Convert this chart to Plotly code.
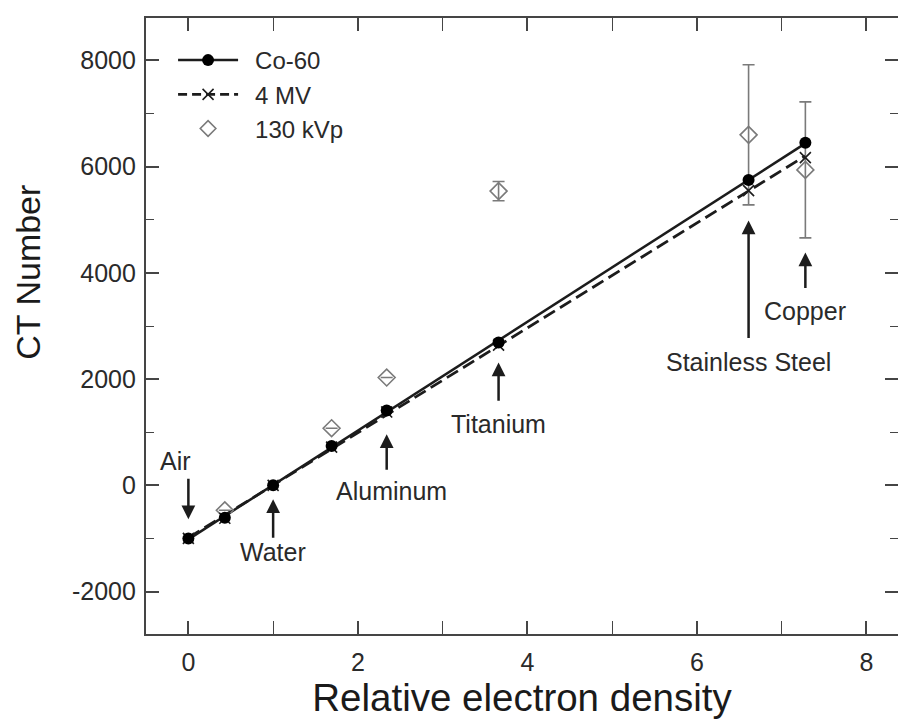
import numpy as np
import plotly.graph_objects as go

# ---------------- data ----------------
density = [0.0, 0.43, 1.0, 1.69, 2.34, 3.66, 6.61, 7.28]
co60 = [-1000, -610, 0, 740, 1410, 2690, 5750, 6450]
mv4 = [-1000, -620, 0, 720, 1380, 2640, 5550, 6170]
kvp130 = [None, -470, None, 1075, 2030, 5540, 6600, 5940]
kvp130_err = [0, 0, 0, 0, 0, 180, 1320, 1280]

material_names = ["Air", "Water", "Aluminum", "Titanium", "Stainless Steel", "Copper"]
material_density = [0.0, 1.0, 2.34, 3.66, 6.61, 7.28]
arrow_tip = [-640, -263, 960, 2315, 4988, 4385]
arrow_tail = [150, -1016, 264, 1562, 2748, 3689]
label_x = [-0.15, 1.0, 2.40, 3.66, 6.61, 7.28]
label_y = [452, -1261, -113, 1148, 2315, 3275]

x_ticks = [0, 2, 4, 6, 8]
x_tick_labels = ["0", "2", "4", "6", "8"]
y_ticks = [-2000, 0, 2000, 4000, 6000, 8000]
y_tick_labels = ["-2000", "0", "2000", "4000", "6000", "8000"]

FONT = "Liberation Sans, Arial, sans-serif"
DARK = "#1c1c1c"
AXIS = "#454545"
GRAY = "#7a7a7a"
TXT = "#2a2a2a"

fig = go.Figure()

# least-squares fit lines through the measured points
x_fit = np.array([min(density), max(density)])
p_co = np.polyfit(density, co60, 1)
p_mv = np.polyfit(density, mv4, 1)

fig.add_trace(go.Scatter(x=x_fit, y=np.polyval(p_co, x_fit), mode="lines",
                         line=dict(color=DARK, width=2.5), showlegend=False,
                         hoverinfo="skip"))
fig.add_trace(go.Scatter(x=x_fit, y=np.polyval(p_mv, x_fit), mode="lines",
                         line=dict(color=DARK, width=2.8, dash="13px,6px"),
                         showlegend=False, hoverinfo="skip"))

# 130 kVp diamonds with error bars
fig.add_trace(go.Scatter(
    x=density, y=kvp130, mode="markers",
    marker=dict(symbol="diamond-open", size=13, color=GRAY,
                line=dict(width=1.6, color=GRAY)),
    error_y=dict(type="data", array=kvp130_err, visible=True,
                 color=GRAY, thickness=1.6, width=6),
    showlegend=False))

# 4 MV crosses
fig.add_trace(go.Scatter(
    x=density, y=mv4, mode="markers",
    marker=dict(symbol="x-thin-open", size=11, color=DARK,
                line=dict(width=1.6, color=DARK)),
    showlegend=False))

# Co-60 filled circles
fig.add_trace(go.Scatter(
    x=density, y=co60, mode="markers",
    marker=dict(symbol="circle", size=12, color="#000000"),
    showlegend=False))

# legend entries
fig.add_trace(go.Scatter(x=[None], y=[None], mode="lines+markers", name="\u2002Co-60",
                         line=dict(color=DARK, width=2.5),
                         marker=dict(symbol="circle", size=12, color="#000000")))
fig.add_trace(go.Scatter(x=[None], y=[None], mode="lines+markers", name="\u20024 MV",
                         line=dict(color=DARK, width=2.8, dash="9px,5px"),
                         marker=dict(symbol="x-thin-open", size=11, color=DARK,
                                     line=dict(width=1.6, color=DARK))))
fig.add_trace(go.Scatter(x=[None], y=[None], mode="markers", name="\u2002130 kVp",
                         marker=dict(symbol="diamond-open", size=12, color=GRAY,
                                     line=dict(width=1.6, color=GRAY))))

# invisible trace to carry the right-hand tick axis
fig.add_trace(go.Scatter(x=[None], y=[None], yaxis="y2", showlegend=False,
                         hoverinfo="skip"))

annotations = []
for name, mx, tip, tail, lx, ly in zip(material_names, material_density, arrow_tip,
                                        arrow_tail, label_x, label_y):
    annotations.append(dict(x=mx, y=tip, ax=mx, ay=tail, axref="x", ayref="y",
                            xref="x", yref="y", text="", showarrow=True,
                            arrowhead=2, arrowsize=1.1, arrowwidth=2.5,
                            arrowcolor=DARK))
    annotations.append(dict(x=lx, y=ly, xref="x", yref="y", text=name,
                            showarrow=False,
                            font=dict(family=FONT, size=25, color=TXT)))

# y-axis title (sits above the axis centre in the reference)
annotations.append(dict(x=-0.157, y=0.588, xref="paper", yref="paper",
                        xanchor="center", yanchor="middle",
                        text="CT Number", textangle=-90, showarrow=False,
                        font=dict(family=FONT, size=34, color="#1a1a1a")))

tick_common = dict(ticks="inside", ticklen=13, tickwidth=1.6, tickcolor=AXIS,
                   showgrid=False, zeroline=False)

fig.update_layout(
    width=898, height=727,
    margin=dict(l=146, r=0, t=18, b=93),
    paper_bgcolor="white", plot_bgcolor="white",
    font=dict(family=FONT, color=TXT),
    showlegend=True,
    legend=dict(x=0.036, y=0.9675, xanchor="left", yanchor="top",
                bgcolor="rgba(0,0,0,0)", itemwidth=60,
                font=dict(family=FONT, size=24, color=TXT),
                tracegroupgap=0),
    annotations=annotations,
    xaxis=dict(range=[-0.5, 8.373], tickvals=x_ticks, ticktext=x_tick_labels,
               minor=dict(dtick=1, ticks="inside", ticklen=8, tickwidth=1.4,
                          tickcolor=AXIS),
               showline=True, linewidth=2.2, linecolor=AXIS, mirror="allticks",
               tickfont=dict(family=FONT, size=25, color=TXT),
               ticklabelstandoff=5,
               title=dict(text="Relative electron density", standoff=3,
                          font=dict(family=FONT, size=38.5, color="#1a1a1a")),
               **tick_common),
    yaxis=dict(range=[-2800, 8800], tickvals=y_ticks, ticktext=y_tick_labels,
               minor=dict(dtick=1000, ticks="inside", ticklen=8, tickwidth=1.4,
                          tickcolor=AXIS),
               showline=True, linewidth=2.2, linecolor=AXIS, mirror=False,
               tickfont=dict(family=FONT, size=25, color=TXT),
               ticklabelstandoff=3,
               **tick_common),
    yaxis2=dict(overlaying="y", side="right", matches="y", anchor="x",
                tickvals=y_ticks, showticklabels=False, showline=False,
                minor=dict(dtick=1000, ticks="inside", ticklen=8, tickwidth=1.4,
                           tickcolor=AXIS),
                **tick_common),
)

fig.write_html("out.html")
